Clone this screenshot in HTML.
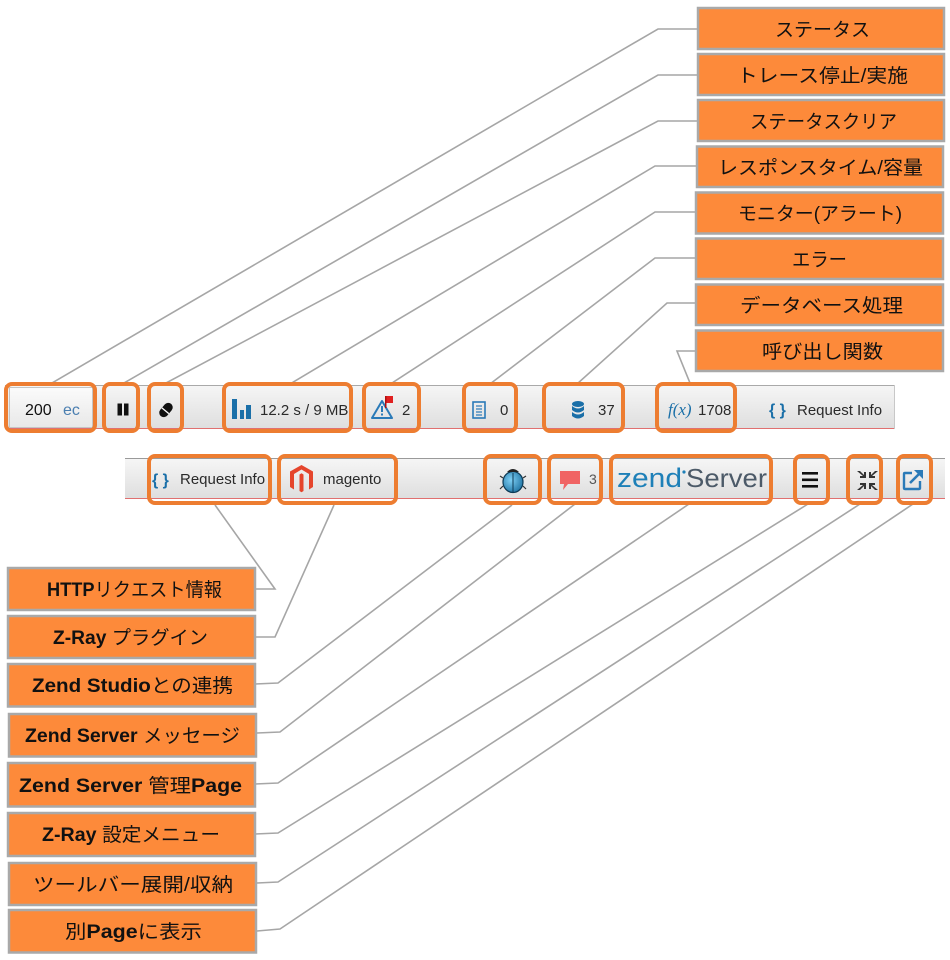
<!DOCTYPE html>
<html><head><meta charset="utf-8"><style>
html,body{margin:0;padding:0;background:#fff;}
svg{display:block;}
.jp{font-family:"Liberation Sans","Noto Sans CJK JP",sans-serif;font-size:19px;fill:#111;}
.b{font-weight:bold;}
.tb{font-family:"Liberation Sans",sans-serif;font-size:15px;fill:#2a2a2a;}
</style></head><body>
<svg width="950" height="960" viewBox="0 0 950 960" xmlns="http://www.w3.org/2000/svg">
<defs>
<linearGradient id="bar" x1="0" y1="0" x2="0" y2="1">
<stop offset="0" stop-color="#f6f6f6"/><stop offset="1" stop-color="#dedede"/>
</linearGradient>
<linearGradient id="btn" x1="0" y1="0" x2="0" y2="1">
<stop offset="0" stop-color="#fbfbfb"/><stop offset="1" stop-color="#e8e8e8"/>
</linearGradient>
<radialGradient id="bug" cx="0.4" cy="0.4" r="0.7">
<stop offset="0" stop-color="#7fd0f5"/><stop offset="1" stop-color="#1a6e9e"/>
</radialGradient>
</defs>
<rect width="950" height="960" fill="#fff"/>

<!-- toolbar 1 -->
<rect x="5" y="385" width="890" height="44" fill="url(#bar)"/>
<line x1="5" y1="385.5" x2="895" y2="385.5" stroke="#a9a9a9" stroke-width="1"/>
<line x1="5" y1="428.5" x2="895" y2="428.5" stroke="#e07070" stroke-width="1"/>
<line x1="894.5" y1="385" x2="894.5" y2="429" stroke="#c8c8c8" stroke-width="1"/>
<rect x="9.5" y="387.5" width="83" height="40" fill="url(#btn)" stroke="#c4c4c4" stroke-width="1"/>
<text x="25" y="415" class="tb" style="fill:#111;font-size:16px">200</text>
<text x="63" y="415" class="tb" style="fill:#4a7eb0;font-size:16px">ec</text>
<!-- pause -->
<rect x="117.5" y="403.5" width="4.5" height="12" fill="#111"/>
<rect x="124" y="403.5" width="4.5" height="12" fill="#111"/>
<!-- eraser -->
<g transform="translate(166,410) rotate(-50)">
<rect x="-8" y="-4.5" width="16" height="9" rx="4.5" fill="#111"/>
<line x1="-1" y1="-4.5" x2="-1" y2="4.5" stroke="#fff" stroke-width="1.3"/>
</g>
<!-- chart -->
<rect x="232" y="399" width="5" height="20" fill="#1a6fa8"/>
<rect x="240" y="410" width="4" height="9" fill="#1a6fa8"/>
<rect x="246" y="405" width="5" height="14" fill="#1a6fa8"/>
<text x="260" y="415" class="tb">12.2 s / 9 MB</text>
<!-- alert -->
<path d="M382 401 L392 418 L372 418 Z" fill="none" stroke="#2a7ab8" stroke-width="2" stroke-linejoin="round"/>
<rect x="381" y="406" width="2" height="6" fill="#2a7ab8"/>
<rect x="381" y="413.5" width="2" height="2" fill="#2a7ab8"/>
<rect x="385" y="396" width="8" height="7" fill="#e02020"/>
<rect x="385" y="396" width="1.5" height="12" fill="#b01010"/>
<text x="402" y="415" class="tb">2</text>
<!-- list -->
<rect x="473" y="402" width="12" height="16" fill="none" stroke="#2a7ab8" stroke-width="1.6"/>
<line x1="476" y1="406" x2="482" y2="406" stroke="#2a7ab8" stroke-width="1.2"/>
<line x1="476" y1="409" x2="482" y2="409" stroke="#2a7ab8" stroke-width="1.2"/>
<line x1="476" y1="412" x2="482" y2="412" stroke="#2a7ab8" stroke-width="1.2"/>
<line x1="476" y1="415" x2="482" y2="415" stroke="#2a7ab8" stroke-width="1.2"/>
<text x="500" y="415" class="tb">0</text>
<!-- db -->
<ellipse cx="578" cy="404" rx="6" ry="3" fill="#1a6fa8"/>
<path d="M572 406 Q578 411 584 406 L584 410 Q578 415 572 410 Z" fill="#1a6fa8"/>
<path d="M572 412 Q578 417 584 412 L584 416 Q578 421 572 416 Z" fill="#1a6fa8"/>
<text x="598" y="415" class="tb">37</text>
<!-- f(x) -->
<text x="668" y="415" style="font-family:'Liberation Serif',serif;font-style:italic;font-size:17px;fill:#1a6fa8">f(x)</text>
<text x="698" y="415" class="tb">1708</text>
<text x="769" y="415" style="font-family:'Liberation Sans',sans-serif;font-size:16px;font-weight:bold;fill:#1a6fa8">{ }</text>
<text x="797" y="415" class="tb">Request Info</text>

<!-- toolbar 2 -->
<rect x="125" y="458" width="820" height="41" fill="url(#bar)"/>
<line x1="125" y1="458.5" x2="945" y2="458.5" stroke="#9a9a9a" stroke-width="1"/>
<line x1="125" y1="498.5" x2="945" y2="498.5" stroke="#e07070" stroke-width="1"/>
<text x="152" y="485" style="font-family:'Liberation Sans',sans-serif;font-size:16px;font-weight:bold;fill:#1a6fa8">{ }</text>
<text x="180" y="484" class="tb">Request Info</text>
<!-- magento -->
<path d="M301.5 465 L313 471.5 L313 487 L309 489.5 L309 474 L301.5 469.5 L294 474 L294 489.5 L290 487 L290 471.5 Z" fill="#e5452c"/>
<path d="M299.5 474.5 L301.5 473.3 L303.5 474.5 L303.5 491 L301.5 492.2 L299.5 491 Z" fill="#e5452c"/>
<text x="323" y="484" class="tb">magento</text>
<!-- bug -->
<ellipse cx="513" cy="482" rx="10" ry="10.5" fill="url(#bug)" stroke="#0d3a55" stroke-width="1.2"/>
<path d="M507 472 Q513 466 519 472 Z" fill="#222"/>
<line x1="513" y1="473" x2="513" y2="492" stroke="#0d3a55" stroke-width="1"/>
<line x1="503" y1="478" x2="500" y2="476" stroke="#333" stroke-width="1.2"/>
<line x1="523" y1="478" x2="526" y2="476" stroke="#333" stroke-width="1.2"/>
<line x1="503" y1="486" x2="500" y2="489" stroke="#333" stroke-width="1.2"/>
<line x1="523" y1="486" x2="526" y2="489" stroke="#333" stroke-width="1.2"/>
<!-- chat -->
<path d="M560 471 H580 V484 H568 L563 490 L564 484 H560 Z" fill="#f06464" stroke-linejoin="round"/>
<text x="589" y="484" class="tb" style="font-size:14px;fill:#555">3</text>
<!-- zend server -->
<text x="617" y="487" textLength="65" lengthAdjust="spacingAndGlyphs" style="font-family:'Liberation Sans',sans-serif;font-size:27px;fill:#1e80b8">zend</text>
<circle cx="684" cy="472" r="1.6" fill="#1e80b8"/>
<text x="686" y="487" textLength="81" lengthAdjust="spacingAndGlyphs" style="font-family:'Liberation Sans',sans-serif;font-size:26px;fill:#4c5a68">Server</text>
<!-- hamburger -->
<rect x="802" y="472" width="16" height="2.6" fill="#111"/>
<rect x="802" y="478.5" width="16" height="2.6" fill="#111"/>
<rect x="802" y="485" width="16" height="2.6" fill="#111"/>
<!-- collapse -->
<g fill="#333">
<path d="M857 471 L860 471 L864 475 L864 472 L866 472 L866 478 L860 478 L860 476 L863 476 L857 471 Z"/>
<path d="M878 471 L875 471 L871 475 L871 472 L869 472 L869 478 L875 478 L875 476 L872 476 Z"/>
<path d="M857 490 L860 490 L864 486 L864 489 L866 489 L866 483 L860 483 L860 485 L863 485 Z"/>
<path d="M878 490 L875 490 L871 486 L871 489 L869 489 L869 483 L875 483 L875 485 L872 485 Z"/>
</g>
<!-- popout -->
<path d="M912 473 H905 Q904 473 904 474 V488 Q904 489 905 489 H919 Q920 489 920 488 V481" fill="none" stroke="#2a7ab8" stroke-width="2.4"/>
<line x1="910" y1="483" x2="920" y2="473" stroke="#2a7ab8" stroke-width="2.6"/>
<path d="M914 470 H923 V479 Z" fill="#2a7ab8"/>

<!-- leader lines -->
<g fill="none" stroke="#a6a6a6" stroke-width="1.6">
<polyline points="697,29 658,29 52,383"/>
<polyline points="697,75 658,75 124,383"/>
<polyline points="697,121 658,121 166,383"/>
<polyline points="696,166 655,166 290,384"/>
<polyline points="695,212 655,212 392,383"/>
<polyline points="695,258 655,258 490,384"/>
<polyline points="695,303 667,303 577,384"/>
<polyline points="695,351 677,351 690,383"/>
<polyline points="255,589 275,589 215,505"/>
<polyline points="255,637 275,637 334,505"/>
<polyline points="255,684 278,683 512,505"/>
<polyline points="257,733 280,732 575,504"/>
<polyline points="255,784 278,783 689,504"/>
<polyline points="255,834 278,833 808,504"/>
<polyline points="257,883 278,882 860,504"/>
<polyline points="257,931 280,929 913,504"/>
</g>

<!-- highlights -->
<g fill="none" stroke="#ed7d31" stroke-width="4">
<rect x="6" y="384" width="89" height="47" rx="6"/>
<rect x="104" y="384" width="34" height="47" rx="6"/>
<rect x="149" y="384" width="33" height="47" rx="6"/>
<rect x="224" y="384" width="127" height="47" rx="6"/>
<rect x="364" y="384" width="55" height="47" rx="6"/>
<rect x="464" y="384" width="52" height="47" rx="6"/>
<rect x="544" y="384" width="79" height="47" rx="6"/>
<rect x="657" y="384" width="78" height="47" rx="6"/>
<rect x="149" y="456" width="121" height="47" rx="6"/>
<rect x="279" y="456" width="117" height="47" rx="6"/>
<rect x="485" y="456" width="55" height="47" rx="6"/>
<rect x="549" y="456" width="52" height="47" rx="6"/>
<rect x="611" y="456" width="160" height="47" rx="6"/>
<rect x="795" y="456" width="33" height="47" rx="6"/>
<rect x="848" y="456" width="33" height="47" rx="6"/>
<rect x="898" y="456" width="33" height="47" rx="6"/>
</g>

<!-- top label boxes -->
<g fill="#fd8a3a" stroke="#a9a9a9" stroke-width="2.5">
<rect x="698" y="8" width="246" height="41"/>
<rect x="698" y="54" width="246" height="41"/>
<rect x="698" y="100" width="246" height="41"/>
<rect x="697" y="146.5" width="246" height="40.5"/>
<rect x="696" y="192.5" width="247" height="41"/>
<rect x="696" y="238.5" width="247" height="40.5"/>
<rect x="696" y="284.5" width="247" height="40.5"/>
<rect x="696" y="330.5" width="247" height="40.5"/>
</g>
<g class="jp">
<text x="775" y="36" textLength="95" lengthAdjust="spacingAndGlyphs" class="jp">ステータス</text>
<text x="737" y="82" textLength="171" lengthAdjust="spacingAndGlyphs" class="jp">トレース停止/実施</text>
<text x="750" y="128" textLength="147" lengthAdjust="spacingAndGlyphs" class="jp">ステータスクリア</text>
<text x="718" y="174" textLength="205" lengthAdjust="spacingAndGlyphs" class="jp">レスポンスタイム/容量</text>
<text x="738" y="220" textLength="164" lengthAdjust="spacingAndGlyphs" class="jp">モニター(アラート)</text>
<text x="792" y="266" textLength="55" lengthAdjust="spacingAndGlyphs" class="jp">エラー</text>
<text x="740" y="312" textLength="163" lengthAdjust="spacingAndGlyphs" class="jp">データベース処理</text>
<text x="762" y="358" textLength="121" lengthAdjust="spacingAndGlyphs" class="jp">呼び出し関数</text>
</g>

<!-- bottom label boxes -->
<g fill="#fd8a3a" stroke="#a9a9a9" stroke-width="2.5">
<rect x="8" y="568" width="247" height="42"/>
<rect x="8" y="616" width="247" height="42"/>
<rect x="8" y="664" width="247" height="42.5"/>
<rect x="9" y="714" width="247" height="42.5"/>
<rect x="8" y="763" width="247" height="43.5"/>
<rect x="8" y="813" width="247" height="43"/>
<rect x="9" y="863" width="247" height="42"/>
<rect x="9" y="910" width="247" height="42.5"/>
</g>
<text x="47" y="596" textLength="175" lengthAdjust="spacingAndGlyphs" class="jp"><tspan class="b">HTTP</tspan>リクエスト情報</text>
<text x="53" y="644" textLength="155" lengthAdjust="spacingAndGlyphs" class="jp"><tspan class="b">Z-Ray</tspan> プラグイン</text>
<text x="32" y="692" textLength="201" lengthAdjust="spacingAndGlyphs" class="jp"><tspan class="b">Zend Studio</tspan>との連携</text>
<text x="25" y="742" textLength="215" lengthAdjust="spacingAndGlyphs" class="jp"><tspan class="b">Zend Server</tspan> メッセージ</text>
<text x="19" y="792" textLength="223" lengthAdjust="spacingAndGlyphs" class="jp"><tspan class="b">Zend Server</tspan> 管理<tspan class="b">Page</tspan></text>
<text x="42" y="841" textLength="178" lengthAdjust="spacingAndGlyphs" class="jp"><tspan class="b">Z-Ray</tspan> 設定メニュー</text>
<text x="33" y="891" textLength="200" lengthAdjust="spacingAndGlyphs" class="jp">ツールバー展開/収納</text>
<text x="65" y="938" textLength="137" lengthAdjust="spacingAndGlyphs" class="jp">別<tspan class="b">Page</tspan>に表示</text>
</svg>
</body></html>
